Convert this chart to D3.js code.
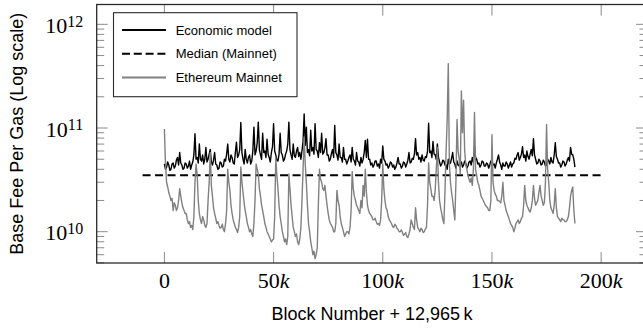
<!DOCTYPE html>
<html>
<head>
<meta charset="utf-8">
<script src="https://cdn.jsdelivr.net/npm/d3@7"></script>
<style>
  body { margin: 0; background: #fff; }
  svg { display: block; }
</style>
</head>
<body>
<div id="chart"></div>
<script>
// base fee per gas, in Gwei, one sample every 500 blocks starting at block 12,965k
const economicModel = [
  45, 40, 42, 47, 44, 39, 40, 45, 46, 41, 43, 49, 52, 44, 58, 46, 44, 40, 41, 46,
  45, 41, 43, 48, 40, 44, 47, 55, 88, 50, 52, 46, 70, 50, 48, 55, 45, 50, 65, 47,
  50, 56, 62, 47, 44, 49, 58, 45, 44, 40, 41, 47, 46, 42, 43, 50, 48, 56, 70, 50,
  47, 55, 52, 46, 45, 58, 73, 52, 55, 62, 113, 58, 50, 45, 62, 50, 46, 52, 55, 45,
  48, 60, 102, 55, 60, 72, 114, 62, 55, 50, 89, 58, 60, 52, 78, 56, 52, 47, 58, 66,
  110, 60, 55, 49, 48, 56, 89, 58, 55, 48, 50, 56, 60, 70, 114, 62, 55, 50, 70, 54,
  52, 60, 65, 53, 58, 50, 60, 75, 137, 68, 102, 58, 62, 54, 95, 60, 65, 56, 110, 62,
  60, 52, 72, 58, 89, 56, 58, 64, 79, 55, 55, 48, 50, 57, 62, 52, 106, 58, 55, 49,
  70, 52, 52, 47, 65, 50, 50, 45, 48, 52, 55, 47, 65, 50, 48, 44, 58, 48, 47, 43,
  52, 46, 50, 58, 76, 52, 78, 50, 50, 44, 46, 42, 44, 48, 48, 43, 45, 41, 50, 46,
  67, 50, 48, 44, 45, 41, 43, 47, 46, 42, 44, 40, 42, 46, 52, 45, 45, 41, 43, 47,
  46, 42, 45, 49, 58, 46, 47, 51, 50, 56, 79, 55, 58, 50, 52, 47, 55, 49, 48, 53,
  52, 60, 111, 58, 60, 52, 74, 56, 55, 50, 70, 52, 47, 43, 45, 49, 48, 44, 44, 40,
  50, 45, 46, 51, 58, 47, 45, 41, 48, 44, 43, 47, 47, 42, 44, 48, 46, 41, 43, 47,
  48, 44, 52, 47, 67, 52, 50, 45, 46, 42, 44, 48, 47, 43, 43, 46, 45, 41, 44, 48,
  48, 44, 45, 41, 46, 50, 55, 47, 44, 40, 46, 43, 43, 47, 45, 41, 44, 47, 42, 45,
  46, 51, 50, 55, 58, 49, 52, 56, 66, 52, 55, 48, 60, 53, 50, 56, 62, 54, 79, 55,
  50, 45, 46, 50, 48, 44, 45, 49, 47, 43, 44, 50, 48, 45, 52, 47, 46, 55, 72, 53,
  50, 46, 46, 42, 44, 48, 47, 43, 45, 49, 52, 48, 65, 56, 55, 50, 42
];
const mainnet = [
  98, 45, 30, 27, 24, 22, 20, 21, 16, 19, 18, 16, 17, 20, 26, 22, 19, 17, 16, 15,
  15, 13, 12, 12.5, 11, 11.5, 10.5, 14, 30, 45, 36, 20, 15, 13, 12, 14, 13, 11.5, 11, 12,
  20, 30, 58, 28, 22, 17, 15, 13.5, 12, 12.5, 11.5, 10.8, 11, 11.8, 10.5, 10, 12, 16, 40, 30,
  25, 18, 15, 13, 12, 11, 10.5, 9.8, 11, 14, 42, 30, 24, 19, 16, 14, 12, 11, 10, 10.5,
  9.5, 9, 12, 20, 45, 40, 36, 26, 22, 18, 16, 14, 12, 11, 10, 9.5, 9, 8.5, 8, 8.3,
  8.5, 14, 52, 35, 26, 18, 14, 12, 10, 9, 8, 8.5, 7.5, 9, 36, 26, 18, 14, 11, 10,
  9, 9.5, 8, 7.5, 8.5, 11, 20, 40, 82, 45, 30, 18, 12, 10, 8, 7, 6, 6.5, 5.5, 6,
  7, 18, 40, 32, 30, 26, 25, 28, 22, 18, 15, 13, 12, 11.5, 11, 10, 10, 12, 25, 20,
  18, 14, 12, 11, 10, 9, 9.5, 10, 10, 9.5, 11, 16, 38, 26, 22, 20, 18, 17, 16, 15,
  20, 17, 28, 22, 40, 24, 18, 16, 15, 14.5, 14, 13, 13, 13.5, 12.5, 11.8, 12, 11.5, 13, 20,
  45, 26, 20, 17, 16, 14, 13, 12.5, 12, 11.2, 11, 11.8, 11.5, 10.8, 10.5, 10, 10, 10.4, 9.8, 9.2,
  9.5, 9.8, 9, 8.8, 9.5, 10.5, 13, 12, 11, 10.5, 17, 13, 11, 10.5, 10, 10.8, 10.5, 9.8, 10, 10.6,
  11, 18, 46, 30, 26, 22, 22, 20, 25, 40, 65, 30, 20, 17, 15, 13, 12, 25, 60, 120,
  418, 45, 30, 24, 20, 16, 13, 30, 121, 60, 50, 36, 228, 90, 185, 60, 45, 40, 35, 32,
  30, 33, 28, 40, 141, 40, 35, 30, 28, 25, 22, 21, 20, 19, 18, 17.5, 17, 16, 16, 20,
  86, 30, 25, 23, 22, 20, 20, 19.5, 19, 22, 30, 20, 18, 16, 15, 14, 13, 12, 11.5, 11,
  10, 10.8, 12, 12.5, 13, 12, 12.5, 13.5, 14, 18, 28, 20, 18, 17, 16, 15.5, 17, 20, 28, 21,
  18, 19, 20, 24, 28, 22, 20, 18, 19, 30, 108, 40, 30, 20, 17, 16, 15, 18, 26, 17,
  14, 13.5, 13, 12.5, 13.5, 13, 13, 12.5, 12.5, 13, 14, 17, 22, 25, 27, 16, 12
];
const sampleStep = 500;
const medianMainnet = 35;          // Gwei
const medianSpan = [-10000, 200000];
const xTicks = [0, 50000, 100000, 150000, 200000];
const yExponents = [10, 11, 12];
const legendLabels = ['Economic model', 'Median (Mainnet)', 'Ethereum Mainnet'];

const W = 643, H = 331;
const margin = { left: 96.7, top: 4.5, right: -4, bottom: 68 };
const width = W - margin.left - margin.right;
const height = H - margin.top - margin.bottom;
const GWEI = 1e9;

const svg = d3.select('#chart').append('svg')
  .attr('width', W)
  .attr('height', H);

const x = d3.scaleLinear().domain([-31000, 221000]).range([0, width]);
const y = d3.scaleLog().domain([4.99e9, 1.553e12]).range([height, 0]);

const chart = svg.append('g')
  .attr('transform', `translate(${margin.left}, ${margin.top})`);

chart.append('clipPath').attr('id', 'clip')
  .append('rect').attr('width', width).attr('height', height);

// ticks, pointing inward on all four sides
const tickCol = '#8a8a8a';
const majorLen = 11, minorLen = 7.5;
const minorVals = [];
yExponents.concat([9]).forEach(e => {
  for (let m = 2; m <= 9; m++) {
    const v = m * Math.pow(10, e);
    if (v > y.domain()[0] && v < y.domain()[1]) minorVals.push(v);
  }
});
const ticks = chart.append('g').attr('stroke', tickCol).attr('stroke-width', 1);
yExponents.forEach(e => {
  const yy = y(Math.pow(10, e));
  ticks.append('line').attr('x1', 0).attr('x2', majorLen).attr('y1', yy).attr('y2', yy);
  ticks.append('line').attr('x1', width).attr('x2', width - majorLen).attr('y1', yy).attr('y2', yy);
});
minorVals.forEach(v => {
  const yy = y(v);
  ticks.append('line').attr('x1', 0).attr('x2', minorLen).attr('y1', yy).attr('y2', yy);
  ticks.append('line').attr('x1', width).attr('x2', width - minorLen).attr('y1', yy).attr('y2', yy);
});
xTicks.forEach(t => {
  const xx = x(t);
  ticks.append('line').attr('x1', xx).attr('x2', xx).attr('y1', height).attr('y2', height - majorLen);
  ticks.append('line').attr('x1', xx).attr('x2', xx).attr('y1', 0).attr('y2', majorLen);
});

// data lines
const line = d3.line()
  .x((d, i) => x(i * sampleStep))
  .y(d => y(d * GWEI));

const plot = chart.append('g').attr('clip-path', 'url(#clip)');
plot.append('path')
  .datum(economicModel)
  .attr('d', line)
  .attr('fill', 'none')
  .attr('stroke', '#000')
  .attr('stroke-width', 1.4)
  .attr('stroke-linejoin', 'round');
plot.append('line')
  .attr('x1', x(medianSpan[0])).attr('x2', x(medianSpan[1]))
  .attr('y1', y(medianMainnet * GWEI)).attr('y2', y(medianMainnet * GWEI))
  .attr('stroke', '#000')
  .attr('stroke-width', 2)
  .attr('stroke-dasharray', '8,4.5');
plot.append('path')
  .datum(mainnet)
  .attr('d', line)
  .attr('fill', 'none')
  .attr('stroke', '#808080')
  .attr('stroke-width', 1.4)
  .attr('stroke-linejoin', 'round');

// frame
chart.append('rect')
  .attr('width', width).attr('height', height)
  .attr('fill', 'none')
  .attr('stroke', '#2a2a2a')
  .attr('stroke-width', 1.3);

// tick labels
const serif = '"Liberation Serif", "DejaVu Serif", serif';
const xl = chart.append('g')
  .attr('font-family', serif)
  .attr('font-size', 22)
  .attr('text-anchor', 'middle')
  .attr('fill', '#000');
xTicks.forEach(t => {
  const txt = xl.append('text').attr('x', x(t)).attr('y', height + 25);
  if (t === 0) { txt.text('0'); return; }
  txt.append('tspan').text(t / 1000);
  txt.append('tspan').attr('font-style', 'italic').text('k');
});
const yl = chart.append('g')
  .attr('font-family', serif)
  .attr('text-anchor', 'end')
  .attr('fill', '#000');
yExponents.forEach(e => {
  const txt = yl.append('text')
    .attr('x', -13.5)
    .attr('y', y(Math.pow(10, e)) + 8.7)
    .attr('font-size', 22);
  txt.append('tspan').text('10');
  txt.append('tspan').attr('font-size', 16).attr('dy', -6.5).text(e);
});

// axis titles
const sans = '"Liberation Sans", Arial, Helvetica, sans-serif';
svg.append('text')
  .attr('x', 372).attr('y', 320)
  .attr('text-anchor', 'middle')
  .attr('font-family', sans).attr('font-size', 18)
  .text('Block Number + 12,965\u2009k');
svg.append('text')
  .attr('transform', `translate(23, ${margin.top + height / 2}) rotate(-90)`)
  .attr('text-anchor', 'middle')
  .attr('font-family', sans).attr('font-size', 18)
  .text('Base Fee Per Gas (Log scale)');

// legend
const legend = svg.append('g').attr('transform', 'translate(113.5, 12.7)');
legend.append('rect')
  .attr('width', 183.5).attr('height', 84)
  .attr('fill', '#fff')
  .attr('stroke', '#2a2a2a')
  .attr('stroke-width', 1.1);
const legendStyles = [
  { stroke: '#000', dash: null },
  { stroke: '#000', dash: '8,3.8' },
  { stroke: '#808080', dash: null }
];
legendLabels.forEach((label, i) => {
  const ly = 17.3 + i * 23.8;
  legend.append('line')
    .attr('x1', 8.5).attr('x2', 52.5)
    .attr('y1', ly).attr('y2', ly)
    .attr('stroke', legendStyles[i].stroke)
    .attr('stroke-width', 2)
    .attr('stroke-dasharray', legendStyles[i].dash);
  legend.append('text')
    .attr('x', 62.2).attr('y', ly + 4.6)
    .attr('font-family', sans).attr('font-size', 13)
    .text(label);
});
</script>
</body>
</html>
